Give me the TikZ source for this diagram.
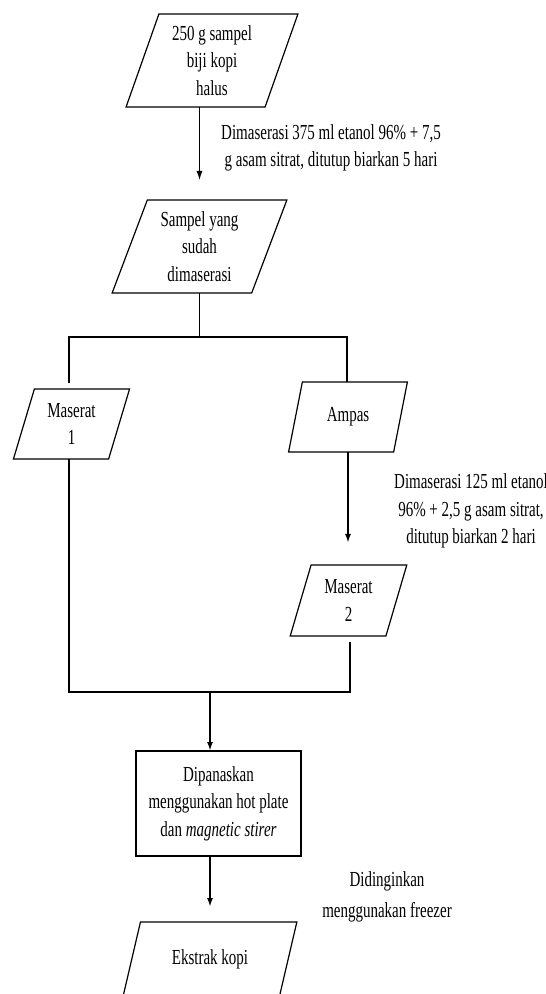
\documentclass[tikz,border=0pt]{standalone}
\usepackage{fontspec}
\setmainfont{Liberation Serif}[FakeStretch=0.70]
\usetikzlibrary{shapes.geometric,arrows.meta}
\tikzset{
  para/.style={trapezium, trapezium stretches=true, draw, line width=1.2bp,
    inner sep=0pt, outer sep=0pt, align=center},
  procbox/.style={rectangle, draw, line width=1.2bp, inner sep=0pt, outer sep=0pt,
    align=center, minimum width=165bp, minimum height=105bp},
  lbl/.style={align=center, inner sep=0pt},
  thin/.style={line width=1.1bp},
  thick/.style={line width=1.8bp},
  arr/.style={-{Latex[length=9bp,width=6bp]}},
}
\begin{document}
\begin{tikzpicture}[x=1bp,y=-1bp,font=\fontsize{21.5}{27.5}\selectfont]
\useasboundingbox (0,0) rectangle (546,994);
\clip (0,0) rectangle (546,994);
% shapes
\node[para, trapezium left angle=70.5, trapezium right angle=109.5,
  minimum width=172bp, minimum height=93bp] (p1) at (212,60.5)
  {250 g sampel\\biji kopi\\halus};
\node[para, trapezium left angle=69.4, trapezium right angle=110.6,
  minimum width=175bp, minimum height=93bp] (p2) at (199.5,246.5)
  {Sampel yang\\sudah\\dimaserasi};
\node[para, trapezium left angle=71.8, trapezium right angle=108.2,
  minimum width=117bp, minimum height=70bp] (m1) at (71.5,424)
  {Maserat\\1};
\node[para, trapezium left angle=71.1, trapezium right angle=108.9,
  minimum width=119bp, minimum height=70bp] (amp) at (348,417)
  {Ampas};
\node[para, trapezium left angle=72, trapezium right angle=108,
  minimum width=117bp, minimum height=71bp] (m2) at (348.5,600.5)
  {Maserat\\2};
\node[procbox] (box) at (218.5,803.5)
  {Dipanaskan\\menggunakan hot plate\\dan \textit{magnetic stirer}};
\node[para, trapezium left angle=64, trapezium right angle=116,
  minimum width=175bp, minimum height=74bp] (ek) at (210,959)
  {Ekstrak kopi};
% labels
\node[lbl] (l1) at (331,148)
  {Dimaserasi 375 ml etanol 96\% + 7,5\\g asam sitrat, ditutup biarkan 5 hari};
\node[lbl] (l2) at (471,511)
  {Dimaserasi 125 ml etanol\\96\% + 2,5 g asam sitrat,\\ditutup biarkan 2 hari};
\node[lbl, font=\fontsize{21.5}{31}\selectfont] (l3) at (387,897)
  {Didinginkan\\menggunakan freezer};
% junction coordinates
\coordinate (jl) at (69,337);
\coordinate (jr) at (347,337);
\coordinate (bl) at (69,692);
\coordinate (br) at (350,692);
\coordinate (bm) at (210,692);
% connectors
\draw[thin, arr, shorten >=20bp] (p2.north |- p1.south) -- (p2.north);
\draw[thin] (p2.south) -- (p2.south |- jl);
\draw[thin, shorten >=6bp] (jr) -- (jl) -- (jl |- m1.north);
\draw[thin] (jl) -- (jr) -- (jr |- amp.north);
\draw[thick, arr, shorten >=22bp] (amp.south) -- (amp.south |- m2.north);
\draw[thin] (bl |- m1.south) -- (bl) -- (br);
\draw[thin, shorten <=6bp] (br |- m2.south) -- (br) -- (bl);
\draw[thick, arr] (bm) -- (bm |- box.north);
\draw[thick, arr, shorten >=15bp] (bm |- box.south) -- (bm |- ek.north);
\end{tikzpicture}
\end{document}
